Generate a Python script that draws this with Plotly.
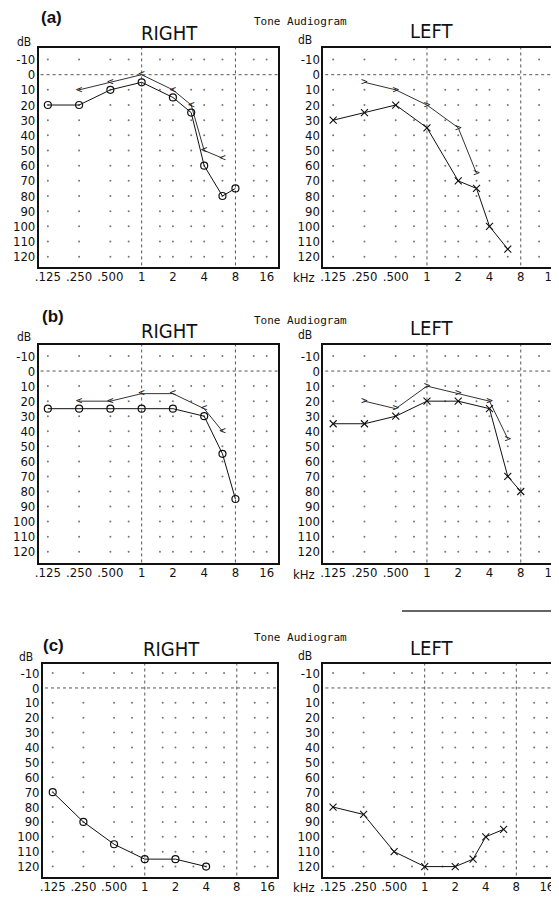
import plotly.graph_objects as go

# ---------------- data ----------------
x_tick_vals = [0.125, 0.25, 0.5, 1, 2, 4, 8, 16]
x_tick_text = [".125", ".250", ".500", "1", "2", "4", "8", "16"]
y_tick_vals = [-10, 0, 10, 20, 30, 40, 50, 60, 70, 80, 90, 100, 110, 120]
grid_freqs = [0.125, 0.25, 0.5, 0.75, 1.5, 2, 3, 4, 6, 12, 16]
grid_levels = [-10, 10, 20, 30, 40, 50, 60, 70, 80, 90, 100, 110, 120]

a_right_air_f = [0.125, 0.25, 0.5, 1, 2, 3, 4, 6, 8]
a_right_air = [20, 20, 10, 5, 15, 25, 60, 80, 75]
a_right_bone_f = [0.25, 0.5, 1, 2, 3, 4, 6]
a_right_bone = [10, 5, 0, 10, 20, 50, 55]
a_left_air_f = [0.125, 0.25, 0.5, 1, 2, 3, 4, 6]
a_left_air = [30, 25, 20, 35, 70, 75, 100, 115]
a_left_bone_f = [0.25, 0.5, 1, 2, 3]
a_left_bone = [5, 10, 20, 35, 65]

b_right_air_f = [0.125, 0.25, 0.5, 1, 2, 4, 6, 8]
b_right_air = [25, 25, 25, 25, 25, 30, 55, 85]
b_right_bone_f = [0.25, 0.5, 1, 2, 4, 6]
b_right_bone = [20, 20, 15, 15, 25, 40]
b_left_air_f = [0.125, 0.25, 0.5, 1, 2, 4, 6, 8]
b_left_air = [35, 35, 30, 20, 20, 25, 70, 80]
b_left_bone_f = [0.25, 0.5, 1, 2, 4, 6]
b_left_bone = [20, 25, 10, 15, 20, 45]

c_right_air_f = [0.125, 0.25, 0.5, 1, 2, 4]
c_right_air = [70, 90, 105, 115, 115, 120]
c_left_air_f = [0.125, 0.25, 0.5, 1, 2, 3, 4, 6]
c_left_air = [80, 85, 110, 120, 120, 115, 100, 95]

# ---------------- layout geometry (page pixels) ----------------
PAGE_W, PAGE_H = 559, 897
OFF = 8                      # default body margin of the html page
W, H = PAGE_W - OFF, PAGE_H - OFF
NARROW = "Liberation Sans Narrow, DejaVu Sans Condensed, Arial Narrow, Liberation Sans, sans-serif"
MONO = "DejaVu Sans Mono, Liberation Mono, monospace"

def px_x(x):
    return min(max((x - OFF) / W, 0.0), 1.0)

def px_y(y):
    return min(max(1 - (y - OFF) / H, 0.0), 1.0)

# each panel: page-pixel box (left, right, top, bottom), x range in log2 kHz, y range dB (top, bottom)
panels = [
    dict(side="R", box=(35, 277.7, 48, 267), xr=(-3.294, 4.37), yr=(-17.6, 126.8),
         air=(a_right_air_f, a_right_air), bone=(a_right_bone_f, a_right_bone)),
    dict(side="L", box=(323.3, 559, 48, 267), xr=(-3.316, 4.127), yr=(-17.6, 126.8),
         air=(a_left_air_f, a_left_air), bone=(a_left_bone_f, a_left_bone)),
    dict(side="R", box=(35, 277.7, 345, 563), xr=(-3.294, 4.37), yr=(-17.3, 127.5),
         air=(b_right_air_f, b_right_air), bone=(b_right_bone_f, b_right_bone)),
    dict(side="L", box=(323.3, 559, 345, 563), xr=(-3.316, 4.127), yr=(-17.3, 127.5),
         air=(b_left_air_f, b_left_air), bone=(b_left_bone_f, b_left_bone)),
    dict(side="R", box=(39.3, 276.7, 664, 877), xr=(-3.32, 4.32), yr=(-16.1, 127.0),
         air=(c_right_air_f, c_right_air), bone=None),
    dict(side="L", box=(323.3, 559, 664, 877), xr=(-3.32, 4.3), yr=(-16.1, 127.0),
         air=(c_left_air_f, c_left_air), bone=None),
]

fig = go.Figure()
LOG10_2 = 0.30102999566

for i, p in enumerate(panels):
    n = i + 1
    xa = "x" if n == 1 else f"x{n}"
    ya = "y" if n == 1 else f"y{n}"
    l, r, t, b = p["box"]
    xlo, xhi = p["xr"]
    ytop, ybot = p["yr"]
    fx_lo, fx_hi = 2 ** xlo, 2 ** xhi

    # grid dots
    gx, gy = [], []
    for lv in grid_levels:
        for f in grid_freqs:
            gx.append(f)
            gy.append(lv)
    fig.add_trace(go.Scatter(x=gx, y=gy, mode="markers", xaxis=xa, yaxis=ya,
                             marker=dict(size=2, color="#777"), hoverinfo="skip",
                             showlegend=False))
    # dotted reference lines at 1 kHz, 8 kHz, and 0 dB
    for f in (1, 8):
        fig.add_trace(go.Scatter(x=[f, f], y=[ytop - 5, ybot + 5], mode="lines", xaxis=xa, yaxis=ya,
                                 line=dict(color="#555", width=1, dash="dot"), hoverinfo="skip",
                                 showlegend=False))
    fig.add_trace(go.Scatter(x=[fx_lo * 0.8, fx_hi * 1.2], y=[0, 0], mode="lines", xaxis=xa, yaxis=ya,
                             line=dict(color="#555", width=1, dash="dot"), hoverinfo="skip",
                             showlegend=False))

    # bone conduction
    if p["bone"] is not None:
        bf, bv = p["bone"]
        sym = "<" if p["side"] == "R" else ">"
        fig.add_trace(go.Scatter(x=bf, y=bv, mode="lines+text", xaxis=xa, yaxis=ya,
                                 text=[sym] * len(bf), textposition="middle center",
                                 textfont=dict(family="DejaVu Sans Mono, monospace", size=11, color="#222"),
                                 line=dict(color="#333", width=1), showlegend=False))
    # air conduction
    af, av = p["air"]
    if p["side"] == "R":
        mk = dict(symbol="circle-open", size=7, color="#111", line=dict(width=1.2, color="#111"))
    else:
        mk = dict(symbol="x-thin-open", size=7, color="#111", line=dict(width=1.1, color="#111"))
    fig.add_trace(go.Scatter(x=af, y=av, mode="lines+markers", xaxis=xa, yaxis=ya,
                             marker=mk, line=dict(color="#111", width=1), showlegend=False))

    xaxis = dict(type="log", domain=[px_x(l), px_x(r)], anchor=ya,
                 range=[xlo * LOG10_2, xhi * LOG10_2],
                 tickmode="array", tickvals=x_tick_vals, ticktext=x_tick_text,
                 showgrid=False, zeroline=False, showline=True, mirror=True,
                 linecolor="#111", linewidth=1.5, ticks="", ticklabelstandoff=-3,
                 ticklabeloverflow="allow",
                 tickfont=dict(family=NARROW, size=13, color="#111"))
    yaxis = dict(domain=[px_y(b), px_y(t)], anchor=xa, range=[ybot, ytop],
                 tickmode="array", tickvals=y_tick_vals,
                 ticktext=[str(v) for v in y_tick_vals],
                 showgrid=False, zeroline=False, showline=True,
                 mirror=(p["side"] == "R"),
                 linecolor="#111", linewidth=1.5, ticks="", ticklabelstandoff=-1,
                 tickfont=dict(family=NARROW, size=13, color="#111"))
    fig.layout["xaxis" if n == 1 else f"xaxis{n}"] = xaxis
    fig.layout["yaxis" if n == 1 else f"yaxis{n}"] = yaxis

annotations = []

def ann(text, x, y, family, size, bold=False, xanchor="center"):
    annotations.append(dict(text=f"<b>{text}</b>" if bold else text,
                            x=px_x(x), y=px_y(y), xref="paper", yref="paper",
                            xanchor=xanchor, yanchor="middle", showarrow=False,
                            font=dict(family=family, size=size, color="#111")))

rows = [
    dict(lbl="(a)", lbl_xy=(48, 18), right=(168, 33), left=(433, 31), tone=(300, 22),
         db_r=(20, 42), db_l=(305, 40), khz=(304, 277)),
    dict(lbl="(b)", lbl_xy=(50, 316), right=(168, 331), left=(433, 328), tone=(300, 320),
         db_r=(20, 337), db_l=(305, 335), khz=(304, 574)),
    dict(lbl="(c)", lbl_xy=(50, 645), right=(170, 649), left=(433, 648), tone=(300, 637),
         db_r=(22, 657), db_l=(305, 656), khz=(304, 887)),
]
for rw in rows:
    ann(rw["lbl"], rw["lbl_xy"][0], rw["lbl_xy"][1], "Liberation Sans, Arial, sans-serif", 17, bold=True)
    ann("RIGHT", rw["right"][0], rw["right"][1], NARROW, 20)
    ann("LEFT", rw["left"][0], rw["left"][1], NARROW, 20)
    ann("Tone Audiogram", rw["tone"][0], rw["tone"][1], MONO, 11)
    ann("dB", rw["db_r"][0], rw["db_r"][1], NARROW, 12)
    ann("dB", rw["db_l"][0], rw["db_l"][1], NARROW, 12)
    ann("kHz", rw["khz"][0], rw["khz"][1], NARROW, 13)

fig.update_layout(
    width=W, height=H,
    margin=dict(l=0, r=0, t=0, b=0),
    paper_bgcolor="white", plot_bgcolor="white",
    annotations=annotations,
    shapes=[dict(type="line", xref="paper", yref="paper",
                 x0=px_x(403), x1=1.0, y0=px_y(611), y1=px_y(611),
                 line=dict(color="#333", width=1.5))],
    showlegend=False,
)

fig.write_html("out.html")
